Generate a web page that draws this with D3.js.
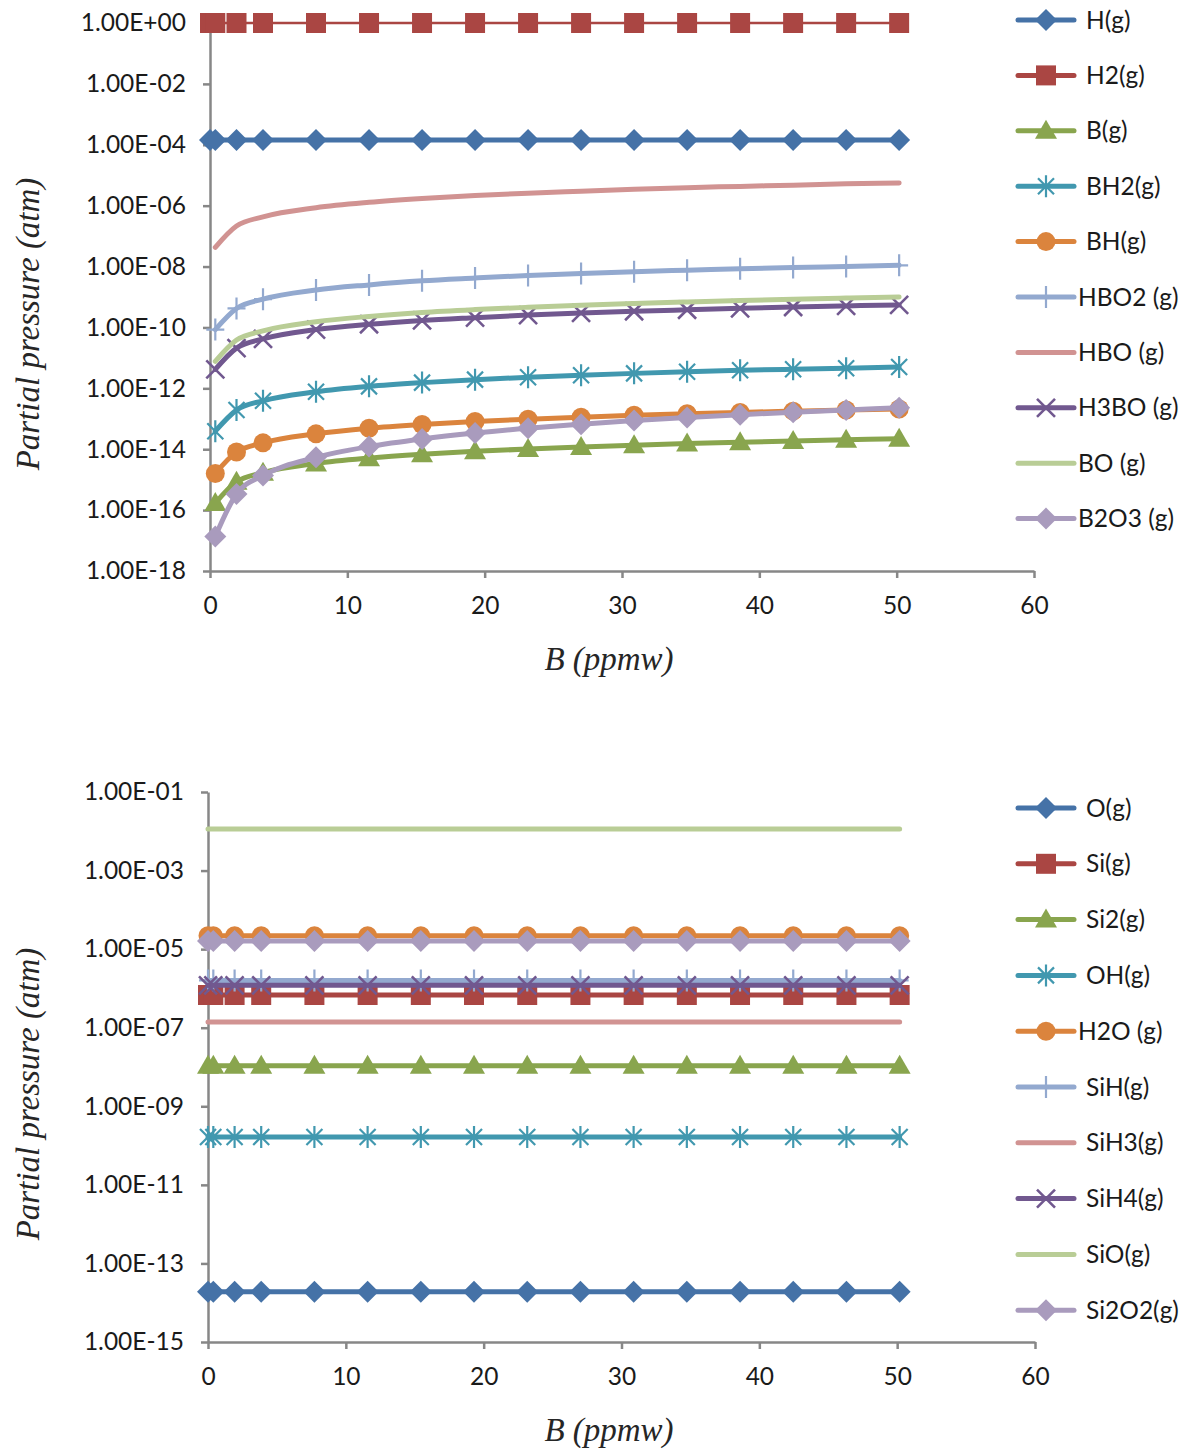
<!DOCTYPE html>
<html>
<head>
<meta charset="utf-8">
<script src="https://cdn.jsdelivr.net/npm/d3@7"></script>
<style>
body { margin:0; background:#fff; }
svg text { font-family: Lato, "Open Sans", sans-serif; fill:#1a1a1a; }
.tick text { font-size:24.5px; }
.legend text { font-size:24.5px; }
.title { font-family:"Liberation Serif", serif; font-style:italic; font-size:33px; fill:#262626; }
.axis path, .axis line { stroke:#878787; stroke-width:2.5; }
</style>
</head>
<body>
<svg id="chart" width="1186" height="1454"></svg>
<script>
// B content (ppmw), same grid for both panels
var bPpmw = [0, 0.386, 1.93, 3.86, 7.72, 11.58, 15.44, 19.3, 23.16, 27.02, 30.88, 34.74, 38.6, 42.46, 46.32, 50.18];

// top panel: H / B species (null = 0, not drawn on log axis)
var hG    = [1.44e-4, 1.44e-4, 1.44e-4, 1.44e-4, 1.44e-4, 1.44e-4, 1.44e-4, 1.44e-4, 1.44e-4, 1.44e-4, 1.44e-4, 1.44e-4, 1.44e-4, 1.44e-4, 1.44e-4, 1.44e-4];
var h2G   = [1, 1, 1, 1, 1, 1, 1, 1, 1, 1, 1, 1, 1, 1, 1, 1];
var bG    = [null, 1.7e-16, 8.5e-16, 1.7e-15, 3.4e-15, 5.1e-15, 6.8e-15, 8.5e-15, 1.02e-14, 1.19e-14, 1.36e-14, 1.53e-14, 1.7e-14, 1.87e-14, 2.04e-14, 2.2e-14];
var bh2G  = [null, 3.9e-14, 1.93e-13, 3.9e-13, 7.7e-13, 1.16e-12, 1.54e-12, 1.93e-12, 2.3e-12, 2.7e-12, 3.1e-12, 3.5e-12, 3.9e-12, 4.25e-12, 4.6e-12, 5.0e-12];
var bhG   = [null, 1.6e-15, 8.1e-15, 1.62e-14, 3.2e-14, 4.9e-14, 6.5e-14, 8.1e-14, 9.7e-14, 1.13e-13, 1.3e-13, 1.46e-13, 1.62e-13, 1.78e-13, 1.95e-13, 2.1e-13];
var hbo2G = [null, 8.5e-11, 4.2e-10, 8.5e-10, 1.7e-9, 2.5e-9, 3.4e-9, 4.2e-9, 5.1e-9, 5.9e-9, 6.8e-9, 7.6e-9, 8.5e-9, 9.3e-9, 1.0e-8, 1.1e-8];
var hboG  = [null, 4.3e-8, 2.15e-7, 4.3e-7, 8.6e-7, 1.29e-6, 1.72e-6, 2.15e-6, 2.58e-6, 3.0e-6, 3.45e-6, 3.9e-6, 4.3e-6, 4.7e-6, 5.2e-6, 5.6e-6];
var h3boG = [null, 4.2e-12, 2.1e-11, 4.2e-11, 8.5e-11, 1.27e-10, 1.7e-10, 2.1e-10, 2.55e-10, 3.0e-10, 3.4e-10, 3.8e-10, 4.25e-10, 4.7e-10, 5.1e-10, 5.5e-10];
var boG   = [null, 7.7e-12, 3.85e-11, 7.7e-11, 1.54e-10, 2.3e-10, 3.1e-10, 3.85e-10, 4.6e-10, 5.4e-10, 6.15e-10, 6.9e-10, 7.7e-10, 8.45e-10, 9.2e-10, 1.0e-9];
var b2o3G = [null, 1.36e-17, 3.4e-16, 1.36e-15, 5.4e-15, 1.22e-14, 2.17e-14, 3.4e-14, 4.9e-14, 6.6e-14, 8.7e-14, 1.1e-13, 1.36e-13, 1.64e-13, 1.95e-13, 2.3e-13];
var topNames = ["H(g)", "H2(g)", "B(g)", "BH2(g)", "BH(g)", "HBO2 (g)", "HBO (g)", "H3BO (g)", "BO (g)", "B2O3 (g)"];
var topTicks = [1, 1e-2, 1e-4, 1e-6, 1e-8, 1e-10, 1e-12, 1e-14, 1e-16, 1e-18];

// bottom panel: Si / O species
var oG     = [1.9e-14, 1.9e-14, 1.9e-14, 1.9e-14, 1.9e-14, 1.9e-14, 1.9e-14, 1.9e-14, 1.9e-14, 1.9e-14, 1.9e-14, 1.9e-14, 1.9e-14, 1.9e-14, 1.9e-14, 1.9e-14];
var siG    = [6.8e-7, 6.8e-7, 6.8e-7, 6.8e-7, 6.8e-7, 6.8e-7, 6.8e-7, 6.8e-7, 6.8e-7, 6.8e-7, 6.8e-7, 6.8e-7, 6.8e-7, 6.8e-7, 6.8e-7, 6.8e-7];
var si2G   = [1.07e-8, 1.07e-8, 1.07e-8, 1.07e-8, 1.07e-8, 1.07e-8, 1.07e-8, 1.07e-8, 1.07e-8, 1.07e-8, 1.07e-8, 1.07e-8, 1.07e-8, 1.07e-8, 1.07e-8, 1.07e-8];
var ohG    = [1.66e-10, 1.66e-10, 1.66e-10, 1.66e-10, 1.66e-10, 1.66e-10, 1.66e-10, 1.66e-10, 1.66e-10, 1.66e-10, 1.66e-10, 1.66e-10, 1.66e-10, 1.66e-10, 1.66e-10, 1.66e-10];
var h2oG   = [2.2e-5, 2.2e-5, 2.2e-5, 2.2e-5, 2.2e-5, 2.2e-5, 2.2e-5, 2.2e-5, 2.2e-5, 2.2e-5, 2.2e-5, 2.2e-5, 2.2e-5, 2.2e-5, 2.2e-5, 2.2e-5];
var sihG   = [1.6e-6, 1.6e-6, 1.6e-6, 1.6e-6, 1.6e-6, 1.6e-6, 1.6e-6, 1.6e-6, 1.6e-6, 1.6e-6, 1.6e-6, 1.6e-6, 1.6e-6, 1.6e-6, 1.6e-6, 1.6e-6];
var sih3G  = [1.4e-7, 1.4e-7, 1.4e-7, 1.4e-7, 1.4e-7, 1.4e-7, 1.4e-7, 1.4e-7, 1.4e-7, 1.4e-7, 1.4e-7, 1.4e-7, 1.4e-7, 1.4e-7, 1.4e-7, 1.4e-7];
var sih4G  = [1.2e-6, 1.2e-6, 1.2e-6, 1.2e-6, 1.2e-6, 1.2e-6, 1.2e-6, 1.2e-6, 1.2e-6, 1.2e-6, 1.2e-6, 1.2e-6, 1.2e-6, 1.2e-6, 1.2e-6, 1.2e-6];
var sioG   = [1.15e-2, 1.15e-2, 1.15e-2, 1.15e-2, 1.15e-2, 1.15e-2, 1.15e-2, 1.15e-2, 1.15e-2, 1.15e-2, 1.15e-2, 1.15e-2, 1.15e-2, 1.15e-2, 1.15e-2, 1.15e-2];
var si2o2G = [1.6e-5, 1.6e-5, 1.6e-5, 1.6e-5, 1.6e-5, 1.6e-5, 1.6e-5, 1.6e-5, 1.6e-5, 1.6e-5, 1.6e-5, 1.6e-5, 1.6e-5, 1.6e-5, 1.6e-5, 1.6e-5];
var bottomNames = ["O(g)", "Si(g)", "Si2(g)", "OH(g)", "H2O (g)", "SiH(g)", "SiH3(g)", "SiH4(g)", "SiO(g)", "Si2O2(g)"];
var bottomTicks = [1e-1, 1e-3, 1e-5, 1e-7, 1e-9, 1e-11, 1e-13, 1e-15];

var xTicks = [0, 10, 20, 30, 40, 50, 60];

// excel 2007 style series look, shared by both panels
var seriesColors = ["#4572A7", "#AA4643", "#89A54E", "#4198AF", "#DB843D", "#93A9CF", "#D19392", "#71588F", "#B9CD96", "#A99BBD"];
var seriesMarkers = ["diamond", "square", "triangle", "asterisk", "circle", "plus", "none", "cross", "none", "diamond"];

var markerPaths = {
    diamond: "M0,-11L11,0L0,11L-11,0Z",
    square: "M-10,-10H10V10H-10Z",
    triangle: "M0,-11L11,8L-11,8Z",
    asterisk: "M-8,-8L8,8M-8,8L8,-8M0,-11V11",
    plus: "M0,-11V11M-9,0H9",
    cross: "M-9,-9L9,9M-9,9L9,-9"
};

var expLabel = function(v) {
    var e = Math.round(Math.log10(v));
    var s = Math.abs(e) < 10 ? "0" + Math.abs(e) : "" + Math.abs(e);
    return "1.00E" + (e < 0 ? "-" : "+") + s;
};

var addMarker = function(g, type, color, cx, cy) {
    if (type === "none") return;
    if (type === "circle") {
        g.append("circle").attr("cx", cx).attr("cy", cy).attr("r", 9.5).attr("fill", color);
        return;
    }
    var open = (type === "asterisk" || type === "plus" || type === "cross");
    g.append("path")
        .attr("d", markerPaths[type])
        .attr("transform", "translate(" + cx + "," + cy + ")")
        .attr("fill", open ? "none" : color)
        .attr("stroke", open ? color : "none")
        .attr("stroke-width", type === "cross" ? 2.6 : 2.2);
};

var svg = d3.select("#chart");

var drawPanel = function(p) {
    var xScale = d3.scaleLinear().domain([0, 60]).range([p.left, p.right]);
    var yScale = d3.scaleLog().domain([p.yMin, p.yMax]).range([p.bottom, p.top]);

    var g = svg.append("g");

    // axes
    g.append("g")
        .classed("axis", true)
        .attr("transform", "translate(" + p.left + ",0)")
        .call(d3.axisLeft(yScale).tickValues(p.ticks).tickFormat(expLabel)
              .tickSize(7).tickSizeOuter(0).tickPadding(17));
    g.append("g")
        .classed("axis", true)
        .attr("transform", "translate(0," + p.bottom + ")")
        .call(d3.axisBottom(xScale).tickValues(xTicks).tickFormat(d3.format("d"))
              .tickSize(7).tickSizeOuter(0).tickPadding(19));

    // titles
    g.append("text")
        .classed("title", true)
        .attr("text-anchor", "middle")
        .attr("x", 609)
        .attr("y", p.bottom + 99)
        .text("B (ppmw)");
    g.append("g")
        .attr("transform", "translate(39," + ((p.top + p.bottom) / 2 + 27) + ")")
        .append("text")
        .classed("title", true)
        .attr("text-anchor", "middle")
        .attr("transform", "rotate(-90)")
        .text("Partial pressure (atm)");

    var line = d3.line()
        .defined(function(d) { return d.v != null; })
        .x(function(d) { return xScale(d.x); })
        .y(function(d) { return yScale(d.v); })
        .curve(d3.curveMonotoneX);

    p.series.forEach(function(values, i) {
        var pts = values.map(function(v, j) { return {x: bPpmw[j], v: v}; });
        var sg = g.append("g");
        sg.append("path")
            .datum(pts)
            .attr("d", line)
            .attr("fill", "none")
            .attr("stroke", seriesColors[i])
            .attr("stroke-width", (p.thin && i === 1) ? 2.5 : 5)
            .attr("stroke-linecap", "round");
        pts.forEach(function(d) {
            if (d.v == null) return;
            addMarker(sg, seriesMarkers[i], seriesColors[i], xScale(d.x), yScale(d.v));
        });
    });

    // legend
    var lg = g.append("g").classed("legend", true);
    p.names.forEach(function(name, i) {
        var ly = p.legendTop + i * p.legendStep;
        lg.append("line")
            .attr("x1", 1018).attr("x2", 1074)
            .attr("y1", ly).attr("y2", ly)
            .attr("stroke", seriesColors[i])
            .attr("stroke-width", 5)
            .attr("stroke-linecap", "round");
        addMarker(lg, seriesMarkers[i], seriesColors[i], 1046, ly);
        lg.append("text")
            .attr("x", name.indexOf(" ") >= 0 ? 1078 : 1086)
            .attr("y", ly)
            .attr("dy", "0.35em")
            .text(name);
    });
};

drawPanel({
    left: 210, right: 1034, top: 23, bottom: 571,
    yMin: 1e-18, yMax: 1, ticks: topTicks, thin: true,
    series: [hG, h2G, bG, bh2G, bhG, hbo2G, hboG, h3boG, boG, b2o3G],
    names: topNames, legendTop: 20, legendStep: 55.4
});

drawPanel({
    left: 208, right: 1035, top: 792, bottom: 1342,
    yMin: 1e-15, yMax: 1e-1, ticks: bottomTicks, thin: false,
    series: [oG, siG, si2G, ohG, h2oG, sihG, sih3G, sih4G, sioG, si2o2G],
    names: bottomNames, legendTop: 808, legendStep: 55.8
});
</script>
</body>
</html>
